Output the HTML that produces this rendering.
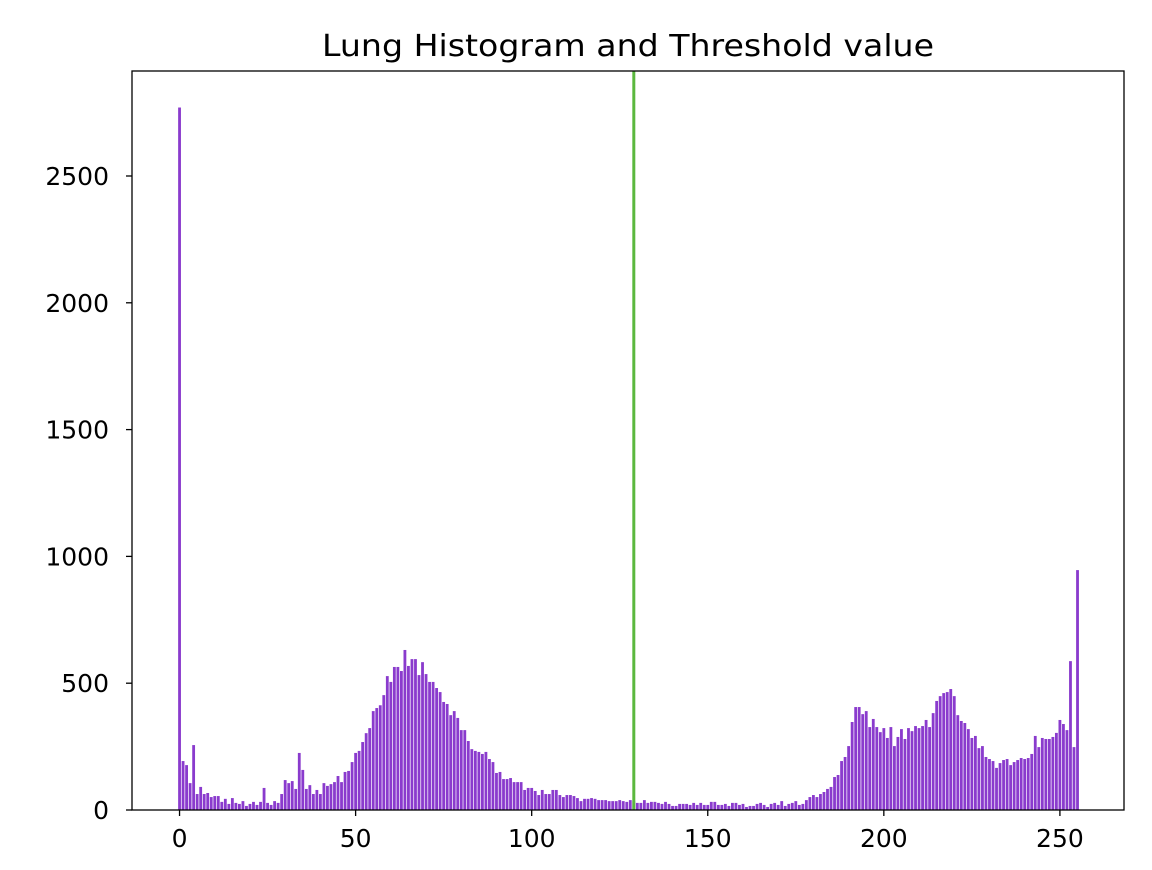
<!DOCTYPE html>
<html><head><meta charset="utf-8"><style>
html,body{margin:0;padding:0;background:#fff;}
svg{display:block;font-family:"DejaVu Sans","Liberation Sans",sans-serif;}
</style></head>
<body>
<svg id="chart" width="1152" height="870" viewBox="0 0 1152 870" xmlns="http://www.w3.org/2000/svg">
<rect width="1152" height="870" fill="#fff"/>
<text x="628" y="56" font-size="30" text-anchor="middle" textLength="612" lengthAdjust="spacingAndGlyphs" fill="#000">Lung Histogram and Threshold value</text>
<g id="bars"></g>
<g id="xticks"></g>
<g id="yticks"></g>
<rect x="132" y="71" width="992" height="739" fill="none" stroke="#000" stroke-width="1.3"/>
</svg>
<script>
const counts = [2770,193,177,106,256,63,91,63,67,51,55,55,32,44,24,47,28,24,35,16,24,32,20,32,87,28,20,35,28,63,
118,106,114,83,225,158,83,98,63,79,63,106,95,102,110,134,110,150,154,189,
225,233,268,303,323,390,402,413,453,528,505,564,564,548,631,568,595,595,532,583,
536,505,505,481,465,426,418,374,390,363,315,315,272,240,233,229,221,229,201,189,
146,150,122,122,126,110,110,110,79,87,87,75,59,79,63,63,79,79,59,51,
59,59,55,47,35,44,44,47,44,39,39,39,35,35,35,39,35,32,39,35,
28,28,39,28,32,32,28,24,32,24,16,16,24,24,24,20,28,20,28,20,
20,32,32,20,20,24,16,28,28,20,24,12,16,16,24,28,20,12,24,28,
20,35,16,24,28,35,20,24,39,51,59,51,63,71,83,91,130,138,193,209,
252,347,406,406,378,390,327,359,327,307,323,284,327,252,288,319,280,323,311,331,
323,331,355,327,382,430,449,461,465,477,449,374,351,343,319,284,292,244,252,209,
201,193,166,185,197,201,177,189,197,205,201,205,221,292,248,284,280,280,288,304,
355,339,315,587,248,946];
const threshold = [129];
const xTicks = [0,50,100,150,200,250];
const yTicks = [0,500,1000,1500,2000,2500];

const NS='http://www.w3.org/2000/svg';
const X0=132,X1=1124,Y0=71,Y1=810;
const xmin=-13.5,xmax=268.2,ymin=0,ymax=2914;
function xs(v){return X0+(v-xmin)/(xmax-xmin)*(X1-X0);}
function ys(v){return Y1-(v-ymin)/(ymax-ymin)*(Y1-Y0);}
function mk(tag,attrs,parent){const e=document.createElementNS(NS,tag);for(const k in attrs)e.setAttribute(k,attrs[k]);parent.appendChild(e);return e;}

const gb=document.getElementById('bars');
counts.forEach((c,i)=>{
  const x=xs(i-0.4),w=xs(i+0.4)-x;
  const r=mk('rect',{x:x,y:ys(c),width:w,height:ys(0)-ys(c),fill:'#8a3bcd'},gb);
  
  
});
threshold.forEach(t=>{
  const l=mk('line',{x1:xs(t),x2:xs(t),y1:Y0,y2:Y1,stroke:'#5bb83e','stroke-width':3},gb);
  
  
});
const gx=document.getElementById('xticks');
xTicks.forEach(t=>{
  const x=xs(t);
  const tk=mk('line',{x1:x,x2:x,y1:Y1,y2:Y1+6,stroke:'#000','stroke-width':1.3},gx);
  
  
  const tx=mk('text',{x:x,y:Y1+37,'font-size':'25','text-anchor':'middle',fill:'#000'},gx);
  tx.textContent=t;
  
  
});
const gy=document.getElementById('yticks');
yTicks.forEach(t=>{
  const y=ys(t);
  const tk=mk('line',{x1:X0-6,x2:X0,y1:y,y2:y,stroke:'#000','stroke-width':1.3},gy);
  
  
  const tx=mk('text',{x:X0-23,y:y+9,'font-size':'25','text-anchor':'end',fill:'#000'},gy);
  tx.textContent=t;
  
  
});
</script>
</body></html>
